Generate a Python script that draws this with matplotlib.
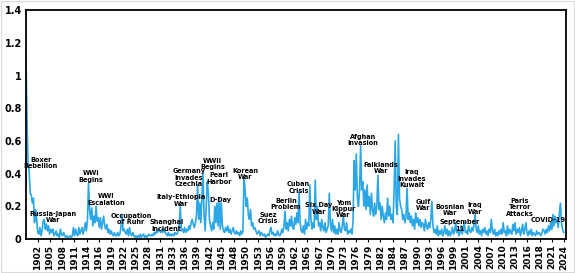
import matplotlib.pyplot as plt
import numpy as np

# quarterly index values (4 per year, from 1900)
gpr_1900s = [1.15, 0.75, 0.45, 0.42,  0.28, 0.27, 0.22, 0.25,  0.10, 0.18, 0.12, 0.04,
             0.03, 0.07, 0.02, 0.05,  0.11, 0.12, 0.06, 0.09,  0.05, 0.08, 0.03, 0.06,
             0.04, 0.06, 0.02, 0.03,  0.05, 0.02, 0.03, 0.01,  0.06, 0.03, 0.02, 0.04,
             0.02, 0.01, 0.02, 0.01]
gpr_1910s = [0.01, 0.02, 0.01, 0.02,  0.07, 0.02, 0.06, 0.03,  0.02, 0.07, 0.03, 0.05,
             0.07, 0.03, 0.06, 0.10,  0.05, 0.11, 0.34, 0.18,  0.12, 0.19, 0.08, 0.14,
             0.10, 0.20, 0.11, 0.13,  0.07, 0.13, 0.06, 0.10,  0.14, 0.08, 0.06, 0.09,
             0.04, 0.06, 0.03, 0.05]
gpr_1920s = [0.03, 0.02, 0.04, 0.02,  0.02, 0.04, 0.02, 0.03,  0.07, 0.15, 0.05, 0.06,
             0.04, 0.03, 0.06, 0.02,  0.07, 0.03, 0.02, 0.04,  0.02, 0.01, 0.02, 0.01,
             0.02, 0.01, 0.03, 0.01,  0.02, 0.03, 0.01, 0.02,  0.01, 0.02, 0.03, 0.02,
             0.02, 0.03, 0.02, 0.04]
gpr_1930s = [0.03, 0.05, 0.04, 0.06,  0.05, 0.04, 0.06, 0.04,  0.06, 0.04, 0.03, 0.02,
             0.04, 0.02, 0.03, 0.02,  0.03, 0.02, 0.04, 0.03,  0.03, 0.05, 0.08, 0.20,
             0.05, 0.06, 0.04, 0.07,  0.04, 0.06, 0.05, 0.08,  0.06, 0.10, 0.12, 0.09,
             0.07, 0.10, 0.15, 0.33]
gpr_1940s = [0.12, 0.22, 0.10, 0.25,  0.40, 0.15, 0.05, 0.20,  0.35, 0.28, 0.12, 0.08,
             0.05, 0.10, 0.06, 0.20,  0.10, 0.22, 0.08, 0.25,  0.06, 0.22, 0.08, 0.05,
             0.04, 0.07, 0.05, 0.08,  0.04, 0.06, 0.03, 0.05,  0.07, 0.04, 0.03, 0.05,
             0.03, 0.04, 0.02, 0.05]
gpr_1950s = [0.03, 0.05, 0.38, 0.30,  0.20, 0.25, 0.15, 0.12,  0.18, 0.08, 0.10, 0.06,
             0.07, 0.05, 0.03, 0.04,  0.05, 0.02, 0.04, 0.03,  0.02, 0.03, 0.01, 0.02,
             0.03, 0.02, 0.05, 0.07,  0.03, 0.04, 0.02, 0.03,  0.02, 0.05, 0.03, 0.02,
             0.03, 0.06, 0.04, 0.08]
gpr_1960s = [0.17, 0.06, 0.10, 0.05,  0.12, 0.08, 0.14, 0.07,  0.06, 0.13, 0.09, 0.16,
             0.10, 0.29, 0.10, 0.05,  0.04, 0.08, 0.03, 0.12,  0.06, 0.10, 0.08, 0.33,
             0.12, 0.06, 0.10, 0.07,  0.36, 0.12, 0.20, 0.08,  0.10, 0.05, 0.12, 0.07,
             0.05, 0.10, 0.04, 0.06]
gpr_1970s = [0.08, 0.28, 0.10, 0.05,  0.12, 0.04, 0.08, 0.03,  0.06, 0.03, 0.10, 0.05,
             0.04, 0.08, 0.14, 0.06,  0.05, 0.10, 0.03, 0.05,  0.04, 0.06, 0.03, 0.12,
             0.48, 0.30, 0.52, 0.25,  0.20, 0.30, 0.57, 0.30,  0.35, 0.20, 0.30, 0.18,
             0.33, 0.20, 0.26, 0.15]
gpr_1980s = [0.28, 0.18, 0.14, 0.22,  0.15, 0.20, 0.39, 0.18,  0.22, 0.12, 0.20, 0.14,
             0.10, 0.16, 0.12, 0.25,  0.14, 0.20, 0.12, 0.15,  0.10, 0.30, 0.60, 0.20,
             0.15, 0.64, 0.25, 0.20,  0.18, 0.12, 0.15, 0.10,  0.14, 0.31, 0.12, 0.16,
             0.10, 0.14, 0.08, 0.12]
gpr_1990s = [0.06, 0.16, 0.10, 0.13,  0.08, 0.12, 0.07, 0.10,  0.09, 0.05, 0.12, 0.08,
             0.06, 0.10, 0.07, 0.12,  0.23, 0.08, 0.04, 0.06,  0.03, 0.08, 0.02, 0.05,
             0.03, 0.06, 0.02, 0.04,  0.08, 0.03, 0.06, 0.02,  0.05, 0.02, 0.04, 0.07,
             0.03, 0.05, 0.10, 0.04]
gpr_2000s = [0.06, 0.02, 0.04, 0.08,  0.03, 0.06, 0.10, 0.04,  0.05, 0.03, 0.08, 0.05,
             0.04, 0.07, 0.05, 0.09,  0.15, 0.06, 0.04, 0.08,  0.03, 0.05, 0.02, 0.06,
             0.04, 0.07, 0.03, 0.05,  0.02, 0.06, 0.04, 0.12,  0.05, 0.03, 0.06, 0.02,
             0.04, 0.02, 0.05, 0.03]
gpr_2010s = [0.06, 0.03, 0.10, 0.04,  0.05, 0.02, 0.08, 0.03,  0.06, 0.04, 0.03, 0.09,
             0.05, 0.10, 0.03, 0.06,  0.04, 0.07, 0.02, 0.05,  0.09, 0.03, 0.06, 0.10,
             0.04, 0.02, 0.05, 0.03,  0.06, 0.02, 0.04, 0.03,  0.02, 0.05, 0.03, 0.04,
             0.03, 0.02, 0.04, 0.06]
gpr_2020s = [0.05, 0.03, 0.06, 0.04,  0.08, 0.05, 0.10, 0.06,  0.15, 0.08, 0.14, 0.10,
             0.12, 0.07, 0.15, 0.22,  0.10, 0.06, 0.04]

tick_labels = ['1902', '1905', '1908', '1911', '1914', '1916', '1919', '1922', '1925',
               '1928', '1931', '1933', '1936', '1939', '1942', '1945', '1948', '1950',
               '1953', '1956', '1959', '1962', '1965', '1967', '1970', '1973', '1976',
               '1979', '1982', '1984', '1987', '1990', '1993', '1996', '1999', '2001',
               '2004', '2007', '2010', '2013', '2016', '2018', '2021', '2024']

# event labels: (text, month index since Jan 1900, y value)
events = [
    ("Boxer\nRebellion", 42, 0.465),
    ("Russia-Japan\nWar", 75, 0.134),
    ("WWI\nBegins", 180, 0.382),
    ("WWI\nEscalation", 222, 0.241),
    ("Occupation\nof Ruhr", 292, 0.122),
    ("Shanghai\nIncident", 390, 0.083),
    ("Italy-Ethiopia\nWar", 430, 0.235),
    ("Germany\nInvades\nCzechia", 453, 0.376),
    ("WWII\nBegins", 518, 0.458),
    ("Pearl\nHarbor", 537, 0.370),
    ("D-Day", 540, 0.238),
    ("Korean\nWar", 610, 0.397),
    ("Suez\nCrisis", 673, 0.128),
    ("Berlin\nProblem", 723, 0.214),
    ("Cuban\nCrisis", 757, 0.315),
    ("Six Day\nWar", 814, 0.186),
    ("Yom\nKippur\nWar", 882, 0.183),
    ("Afghan\nInvasion", 937, 0.605),
    ("Falklands\nWar", 987, 0.434),
    ("Iraq\nInvades\nKuwait", 1073, 0.370),
    ("Gulf\nWar", 1103, 0.208),
    ("Bosnian\nWar", 1178, 0.177),
    ("September\n11", 1206, 0.083),
    ("Iraq\nWar", 1247, 0.186),
    ("Paris\nTerror\nAttacks", 1372, 0.193),
    ("COVID-19", 1450, 0.116),
]

gpr = np.array(gpr_1900s + gpr_1910s + gpr_1920s + gpr_1930s + gpr_1940s + gpr_1950s +
               gpr_1960s + gpr_1970s + gpr_1980s + gpr_1990s + gpr_2000s + gpr_2010s +
               gpr_2020s)
months = np.arange(len(gpr)) * 3

fig = plt.figure(figsize=(5.75, 2.73), dpi=100)
ax = fig.add_axes([0.045, 0.1245, 0.939, 0.8385])

ax.plot(months, gpr, color='#2ba6e6', lw=1.2)

ax.set_xlim(0, 1500)
ax.set_ylim(0, 1.4)
ax.set_yticks(np.arange(0, 1.41, 0.2))
ax.set_yticklabels(['0', '0.2', '0.4', '0.6', '0.8', '1', '1.2', '1.4'],
                   fontsize=7, fontweight='bold')
ax.tick_params(axis='y', length=0, pad=3)

ax.set_xticks(33 + 34 * np.arange(len(tick_labels)))
ax.set_xticklabels(tick_labels, rotation=90, fontsize=6.5, fontweight='bold')
ax.tick_params(axis='x', length=2, width=0.8, pad=2)

for sp in ax.spines.values():
    sp.set_linewidth(1.3)

for txt, m, v in events:
    ax.text(m, v, txt, ha='center', va='center', fontsize=4.7,
            fontweight='bold', linespacing=1.05)

# light chart-area border
fig.patches.append(plt.Rectangle((0.002, 0.004), 0.996, 0.992, transform=fig.transFigure,
                                 fill=False, ec='#d9d9d9', lw=0.8))

fig.savefig('out.png', dpi=100)
